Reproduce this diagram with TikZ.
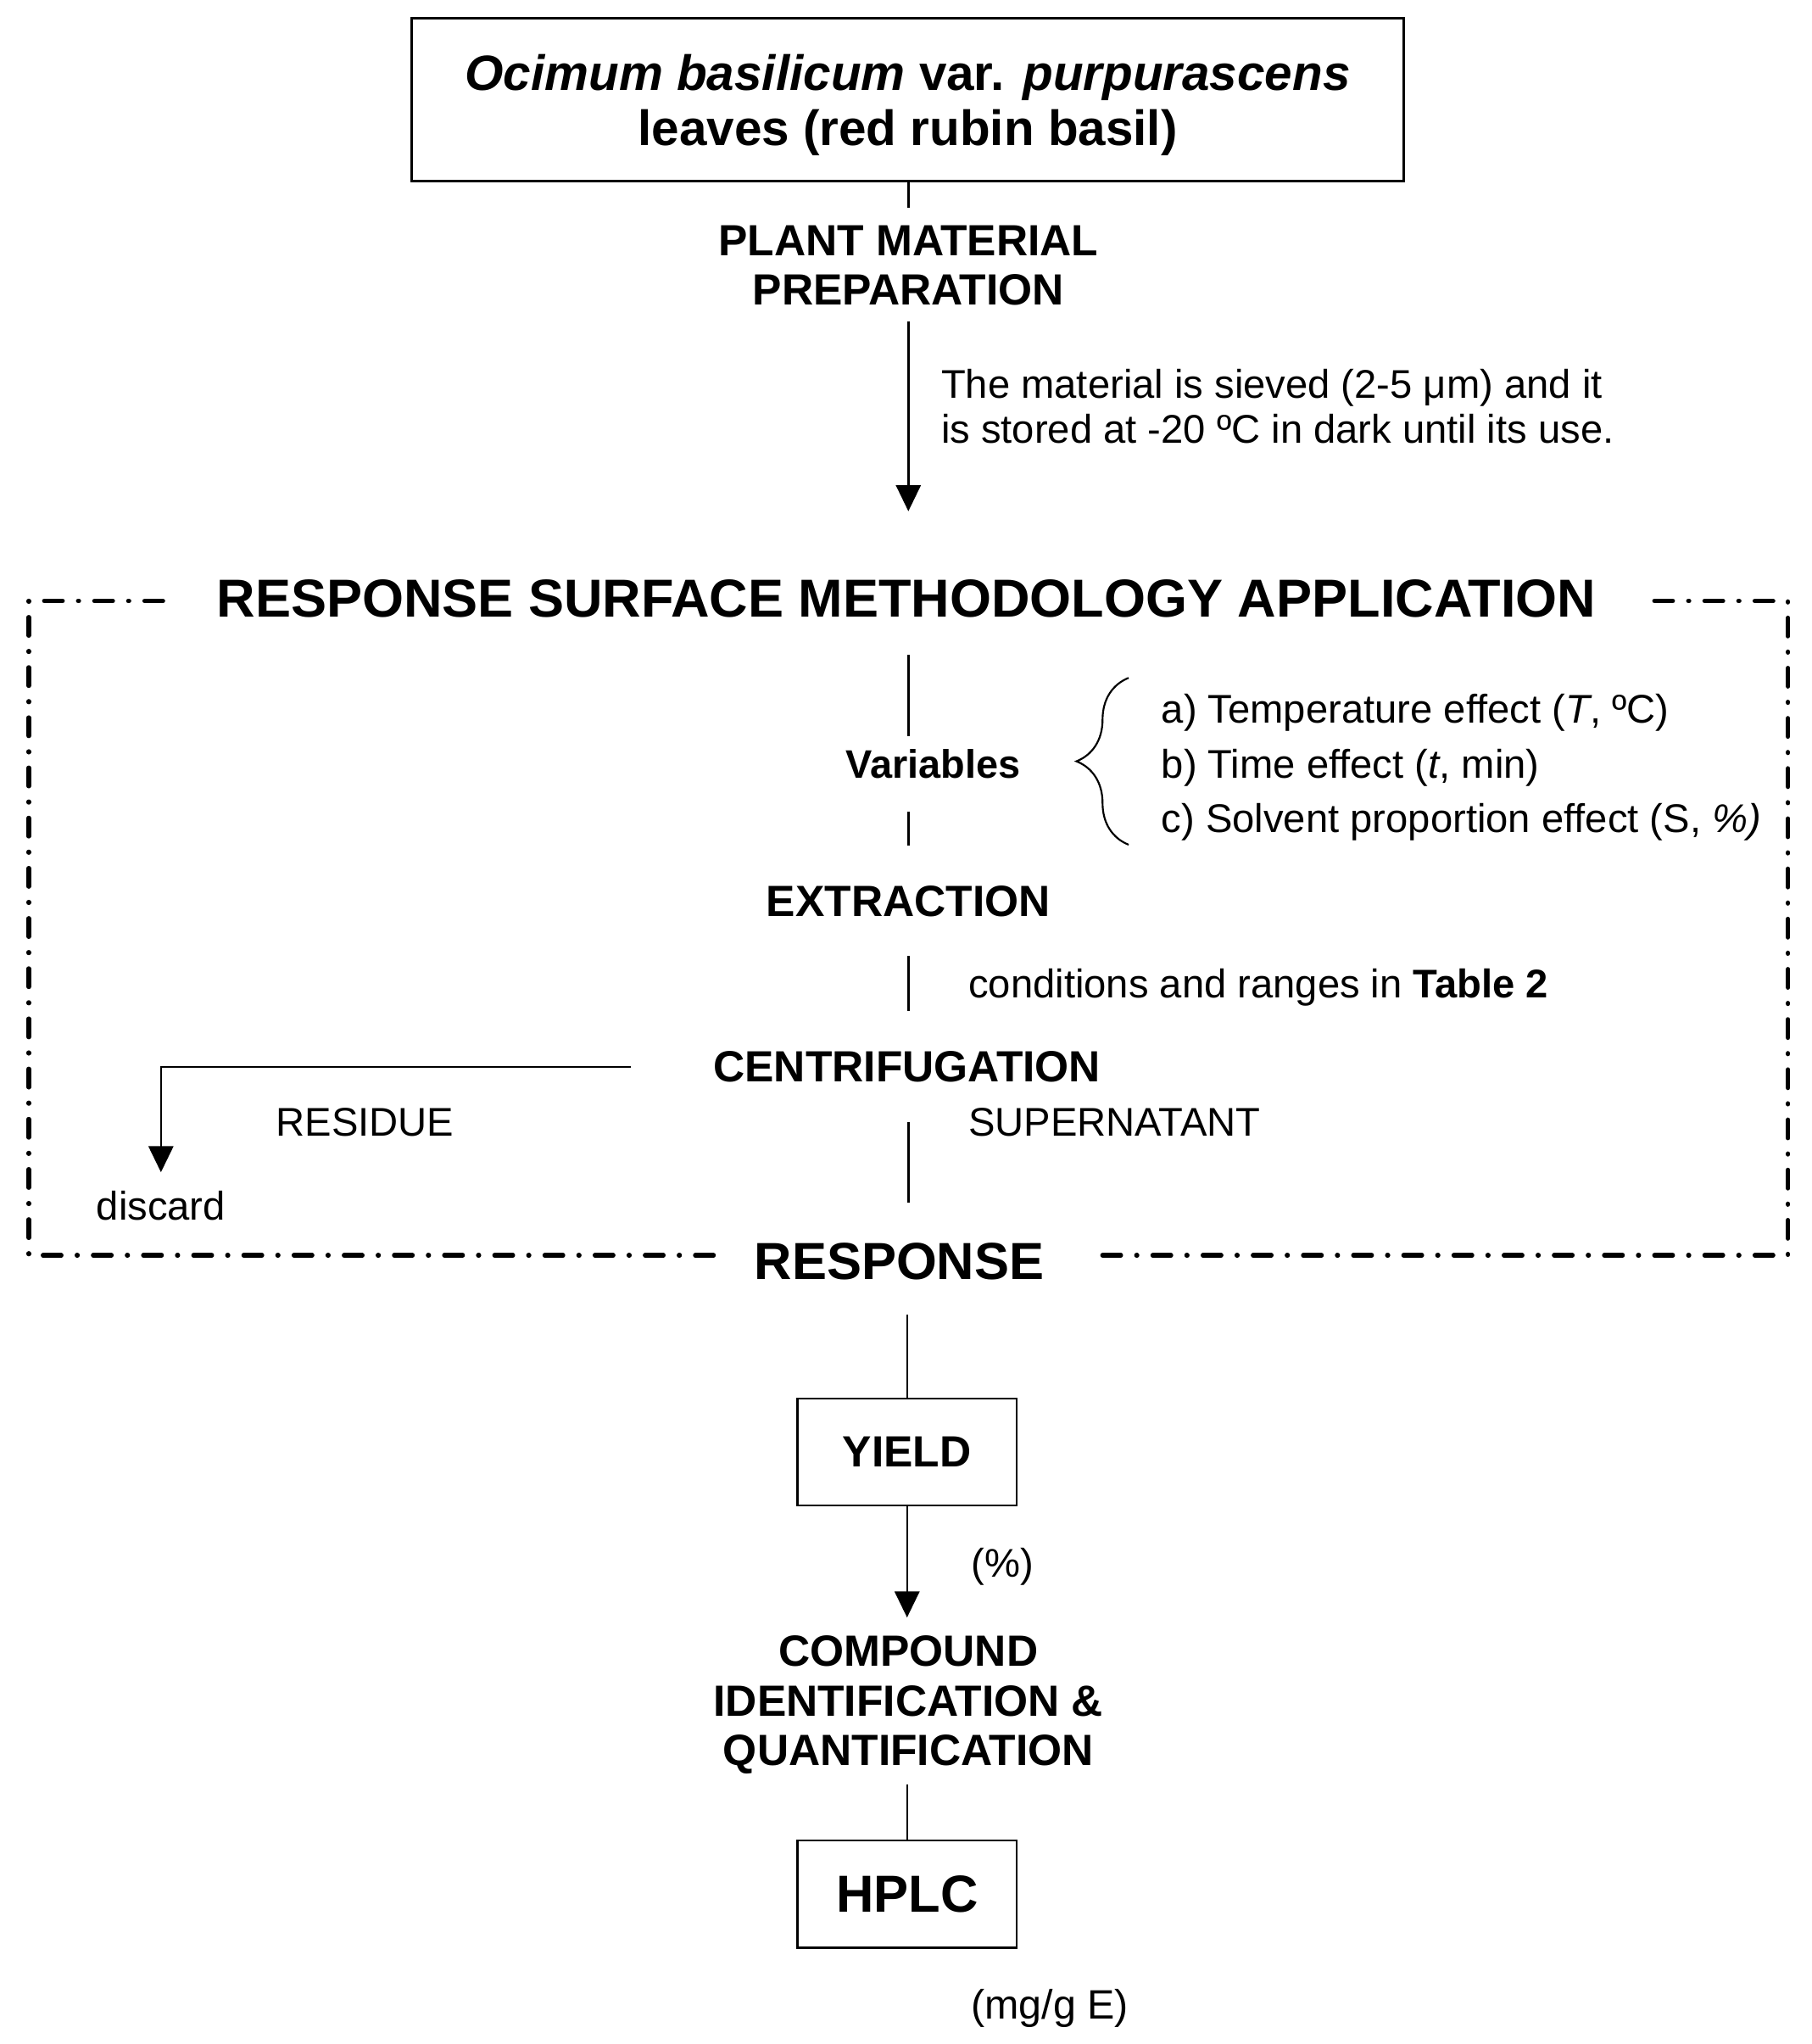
\documentclass[tikz,border=0pt]{standalone}
\usepackage{fontspec}
\setmainfont{Liberation Sans}
\usetikzlibrary{arrows.meta,decorations.pathreplacing}
\tikzset{
  conn/.style={line width=1.6pt, draw=black},
  arr/.style={conn, -{Triangle[length=20pt,width=19pt]}},
  boxnode/.style={draw, line width=1.6pt, inner sep=0pt, align=center},
  boldlbl/.style={inner sep=0pt, align=center, font=\fontsize{33.5}{38}\selectfont\bfseries},
  bigttl/.style={inner sep=0pt, align=center, font=\fontsize{40}{44}\selectfont\bfseries},
  reg/.style={inner sep=0pt, font=\fontsize{30.7}{34}\selectfont},
  frame/.style={line width=3.5pt, line cap=round, dash pattern=on 14pt off 12pt on 0.5pt off 12pt}
}
\begin{document}
\begin{tikzpicture}[x=1pt,y=-1pt]
\useasboundingbox (0,0) rectangle (1390,1568);
% top box
\node[boxnode, minimum width=761pt, minimum height=125pt] (top) at (696.5,76.5) {};
\node[inner sep=0pt, align=center, font=\fontsize{38}{42}\selectfont\bfseries] (toptxt) at (696.5,80.5)
  {\textit{Ocimum basilicum} var. \textit{purpurascens}\\leaves (red rubin basil)};
\node[boldlbl] (plant) at (697,203.5) {PLANT MATERIAL\\PREPARATION};
\node[reg, anchor=base west] (siev1) at (722,305.7) {The material is sieved (2-5 μm) and it};
\node[reg, anchor=base west] (siev2) at (722,339.7) {is stored at -20 ºC in dark until its use.};
% RSM
\node[bigttl, anchor=base, font=\fontsize{41}{44}\selectfont\bfseries] (rsm) at (695.5,473.5) {RESPONSE SURFACE METHODOLOGY APPLICATION};
\node[inner sep=0pt, anchor=base, font=\fontsize{30.5}{34}\selectfont\bfseries] (var) at (716,597) {Variables};
\node[reg, anchor=base west] (ia) at (891,554.7) {a) Temperature effect (\textit{T}, ºC)};
\node[reg, anchor=base west] (ib) at (891,596.7) {b) Time effect (\textit{t}, min)};
\node[reg, anchor=base west] (ic) at (891,638.7) {c) Solvent proportion effect (S, \textit{\%)}};
\node[boldlbl, anchor=base] (ext) at (697,703) {EXTRACTION};
\node[reg, anchor=base west] (cond) at (743,765.7) {conditions and ranges in \textbf{Table 2}};
\node[boldlbl, anchor=base] (cen) at (696,830) {CENTRIFUGATION};
\node[reg, anchor=base] (res) at (280,871.7) {RESIDUE};
\node[reg, anchor=base west] (sup) at (743,871.7) {SUPERNATANT};
\node[reg, anchor=base] (disc) at (123.5,935.7) {discard};
\node[bigttl, anchor=base] (resp) at (690,981.3) {RESPONSE};
% lower part
\node[boxnode, minimum width=168pt, minimum height=82pt, font=\fontsize{33.5}{38}\selectfont\bfseries] (yield) at (696,1114) {YIELD};
\node[reg, anchor=base west] (pct) at (745,1209.7) {(\%)};
\node[boldlbl] (comp) at (697,1308) {COMPOUND\\IDENTIFICATION \&\\QUANTIFICATION};
\node[boxnode, minimum width=168pt, minimum height=82pt, font=\fontsize{40}{44}\selectfont\bfseries] (hplc) at (696,1453) {HPLC};
\node[reg, anchor=base west, font=\fontsize{31.5}{34}\selectfont] (mg) at (745,1548.7) {(mg/g E)};
% connectors
\draw[conn, shorten >=13pt] (top.south -| plant) -- (plant.north);
\draw[arr, shorten <=12pt, shorten >=52.5pt] (plant.south) -- (plant.south |- rsm.north);
\draw[conn, shorten <=28.5pt, shorten >=9.7pt] (plant.south |- rsm.south) -- (plant.south |- var.north);
\draw[conn, shorten <=25pt, shorten >=31pt] (plant.south |- var.south) -- (ext.north);
\draw[conn, shorten <=30pt, shorten >=31pt] (ext.south) -- (ext.south |- cen.north);
\draw[arr, shorten <=63pt, shorten >=14pt] (cen.west) -| (disc.north);
\draw[conn, shorten <=30pt, shorten >=30.7pt] (ext.south |- cen.south) -- (ext.south |- resp.north);
\draw[conn, shorten <=26.7pt] (yield.north |- resp.south) -- (yield.north);
\draw[arr, shorten >=14pt] (yield.south) -- (yield.south |- comp.north);
\draw[conn, shorten <=8pt] (hplc.north |- comp.south) -- (hplc.north);
% brace
\draw[line width=1.4pt, decorate, decoration={brace, amplitude=40pt}] (866,648) -- (866,520);
% dash-dot frame
\draw[frame] (125,461) -- (22,461) -- (22,963) -- (548,963);
\draw[frame] (846,963) -- (1372,963) -- (1372,461) -- (1268,461);
\end{tikzpicture}
\end{document}
